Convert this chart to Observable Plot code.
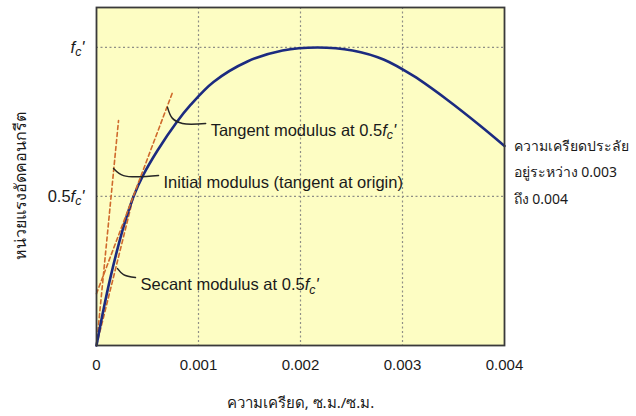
<!DOCTYPE html>
<html>
<head>
<meta charset="utf-8">
<script src="https://cdn.jsdelivr.net/npm/d3@7"></script>
<script src="https://cdn.jsdelivr.net/npm/@observablehq/plot@0.6"></script>
<style>
  html, body { margin: 0; padding: 0; background: #ffffff; }
  #chart svg { display: block; }
</style>
</head>
<body>
<div id="chart"></div>
<script>
// ---- data (strain vs. stress / f'c) ----
const strain = [0, 0.0000686, 0.000137, 0.000216, 0.000284, 0.000363, 0.000461, 0.000598, 0.000784, 0.000922, 0.001147, 0.00148, 0.001824, 0.002167, 0.00251, 0.002814, 0.003108, 0.003441, 0.003765, 0.004];
const stress = [0, 0.1205, 0.2285, 0.3376, 0.4198, 0.5, 0.5738, 0.6544, 0.7483, 0.807, 0.8842, 0.953, 0.990, 1.0, 0.990, 0.9597, 0.9044, 0.8238, 0.7366, 0.6695];

const initialStrain = [0, 0.000216];
const initialStress = [0, 0.755];
const secantStrain = [0, 0.000363];
const secantStress = [0, 0.5];
const tangentStrain = [0, 0.000745];
const tangentStress = [0.174, 0.849];

// leader lines of the annotations (data units)
const tangentLeaderX = [0.000696, 0.000745, 0.000843, 0.00107];
const tangentLeaderY = [0.799, 0.762, 0.745, 0.745];
const initialLeaderX = [0.000167, 0.000265, 0.000608];
const initialLeaderY = [0.594, 0.570, 0.570];
const secantLeaderX = [0.000206, 0.000265, 0.000382];
const secantLeaderY = [0.258, 0.238, 0.228];

const annotationTexts = ["Tangent modulus at 0.5f_c'", "Initial modulus (tangent at origin)", "Secant modulus at 0.5f_c'"];
const endNote = "ความเครียดประลัย\nอยู่ระหว่าง 0.003\nถึง 0.004";

const xTicks = [0, 0.001, 0.002, 0.003, 0.004];
const xTickLabels = ["0", "0.001", "0.002", "0.003", "0.004"];
const yTicks = [0.5, 1];
const yTickLabels = ["0.5f_c'", "f_c'"];
const xGrid = [0.001, 0.002, 0.003];
const yGrid = [0.5, 1];
const xTitle = "ความเครียด, ซ.ม./ซ.ม.";
const yTitle = "หน่วยแรงอัดคอนกรีต";

// ---- build tables ----
const zip = (xs, ys) => xs.map((x, i) => ({x, y: ys[i]}));
const curve = zip(strain, stress);
const initialLine = zip(initialStrain, initialStress);
const secantLine = zip(secantStrain, secantStress);
const tangentLine = zip(tangentStrain, tangentStress);
const leaders = [
  zip(tangentLeaderX, tangentLeaderY),
  zip(initialLeaderX, initialLeaderY),
  zip(secantLeaderX, secantLeaderY)
];
const labelAnchors = leaders.map((l, i) => ({...l[l.length - 1], text: annotationTexts[i]}));

const latin = "'Liberation Sans', Arial, Helvetica, sans-serif";
const thai = "'Noto Sans', 'DejaVu Sans', sans-serif";
const dashColor = "#cf6a2c";
const curveColor = "#1c2b80";

const chart = Plot.plot({
  width: 636,
  height: 416,
  marginLeft: 96,
  marginRight: 132,
  marginTop: 7,
  marginBottom: 71,
  style: {fontFamily: latin, fontSize: "15px", color: "#1a1a1a", background: "#ffffff"},
  x: {domain: [0, 0.004]},
  y: {domain: [0, 1.134]},
  marks: [
    Plot.frame({fill: "#fdfdc3", stroke: null}),
    Plot.gridX(xGrid, {stroke: "#8f8f86", strokeOpacity: 1, strokeDasharray: "2,2.5", strokeWidth: 1.2}),
    Plot.gridY(yGrid, {stroke: "#8f8f86", strokeOpacity: 1, strokeDasharray: "2,2.5", strokeWidth: 1.2}),
    Plot.line(initialLine, {x: "x", y: "y", stroke: dashColor, strokeWidth: 1.6, strokeDasharray: "4,3"}),
    Plot.line(secantLine, {x: "x", y: "y", stroke: dashColor, strokeWidth: 1.6, strokeDasharray: "4,3"}),
    Plot.line(curve, {x: "x", y: "y", stroke: curveColor, strokeWidth: 2.6, curve: "catmull-rom"}),
    Plot.line(tangentLine, {x: "x", y: "y", stroke: dashColor, strokeWidth: 1.6, strokeDasharray: "4,3"}),
    ...leaders.map(l => Plot.line(l, {x: "x", y: "y", stroke: "#262626", strokeWidth: 1.5, curve: "catmull-rom"})),
    Plot.text(labelAnchors, {x: "x", y: "y", text: "text", textAnchor: "start", dx: 5, dy: 7, fontSize: 16.5, fill: "#1a1a1a"}),
    Plot.frame({stroke: "#3a3a3a", strokeWidth: 1.8}),
    Plot.axisX(xTicks, {tickSize: 0, tickPadding: 14, fontSize: 15, label: null,
      tickFormat: d => xTickLabels[xTicks.indexOf(d)]}),
    Plot.axisY(yTicks, {tickSize: 0, tickPadding: 12, fontSize: 16.5, label: null,
      tickFormat: d => yTickLabels[yTicks.indexOf(d)]}),
    Plot.text([xTitle], {frameAnchor: "bottom", textAnchor: "middle", dy: 62, fontSize: 15, fill: "#1a1a1a",
      fontFamily: thai}),
    Plot.text([yTitle], {frameAnchor: "left", textAnchor: "middle", rotate: -90, dx: -76, dy: 9, fontSize: 16, fill: "#1a1a1a",
      fontFamily: thai}),
    Plot.text([{x: strain[strain.length - 1], y: stress[stress.length - 1], text: endNote}],
      {x: "x", y: "y", text: "text", textAnchor: "start", lineAnchor: "top", lineHeight: 1.9,
       dx: 9, dy: -14, fontSize: 14, fill: "#1a1a1a", clip: false, fontFamily: thai})
  ]
});

// render "f_c'" as italic f with subscript c
const NS = "http://www.w3.org/2000/svg";
chart.querySelectorAll("text, tspan").forEach(el => {
  if (el.children.length) return;
  const s = el.textContent;
  const k = s.indexOf("f_c'");
  if (k < 0) return;
  el.textContent = "";
  const before = s.slice(0, k), after = s.slice(k + 4);
  if (before) el.appendChild(document.createTextNode(before));
  const f = document.createElementNS(NS, "tspan");
  f.setAttribute("font-style", "italic"); f.textContent = "f";
  const c = document.createElementNS(NS, "tspan");
  c.setAttribute("font-style", "italic"); c.setAttribute("font-size", "0.75em");
  c.setAttribute("dy", "0.3em"); c.textContent = "c";
  const p = document.createElementNS(NS, "tspan");
  p.setAttribute("font-style", "italic"); p.setAttribute("dy", "-0.23em"); p.textContent = "'";
  el.appendChild(f); el.appendChild(c); el.appendChild(p);
  if (after) el.appendChild(document.createTextNode(after));
});

document.getElementById("chart").appendChild(chart);
</script>
</body>
</html>
